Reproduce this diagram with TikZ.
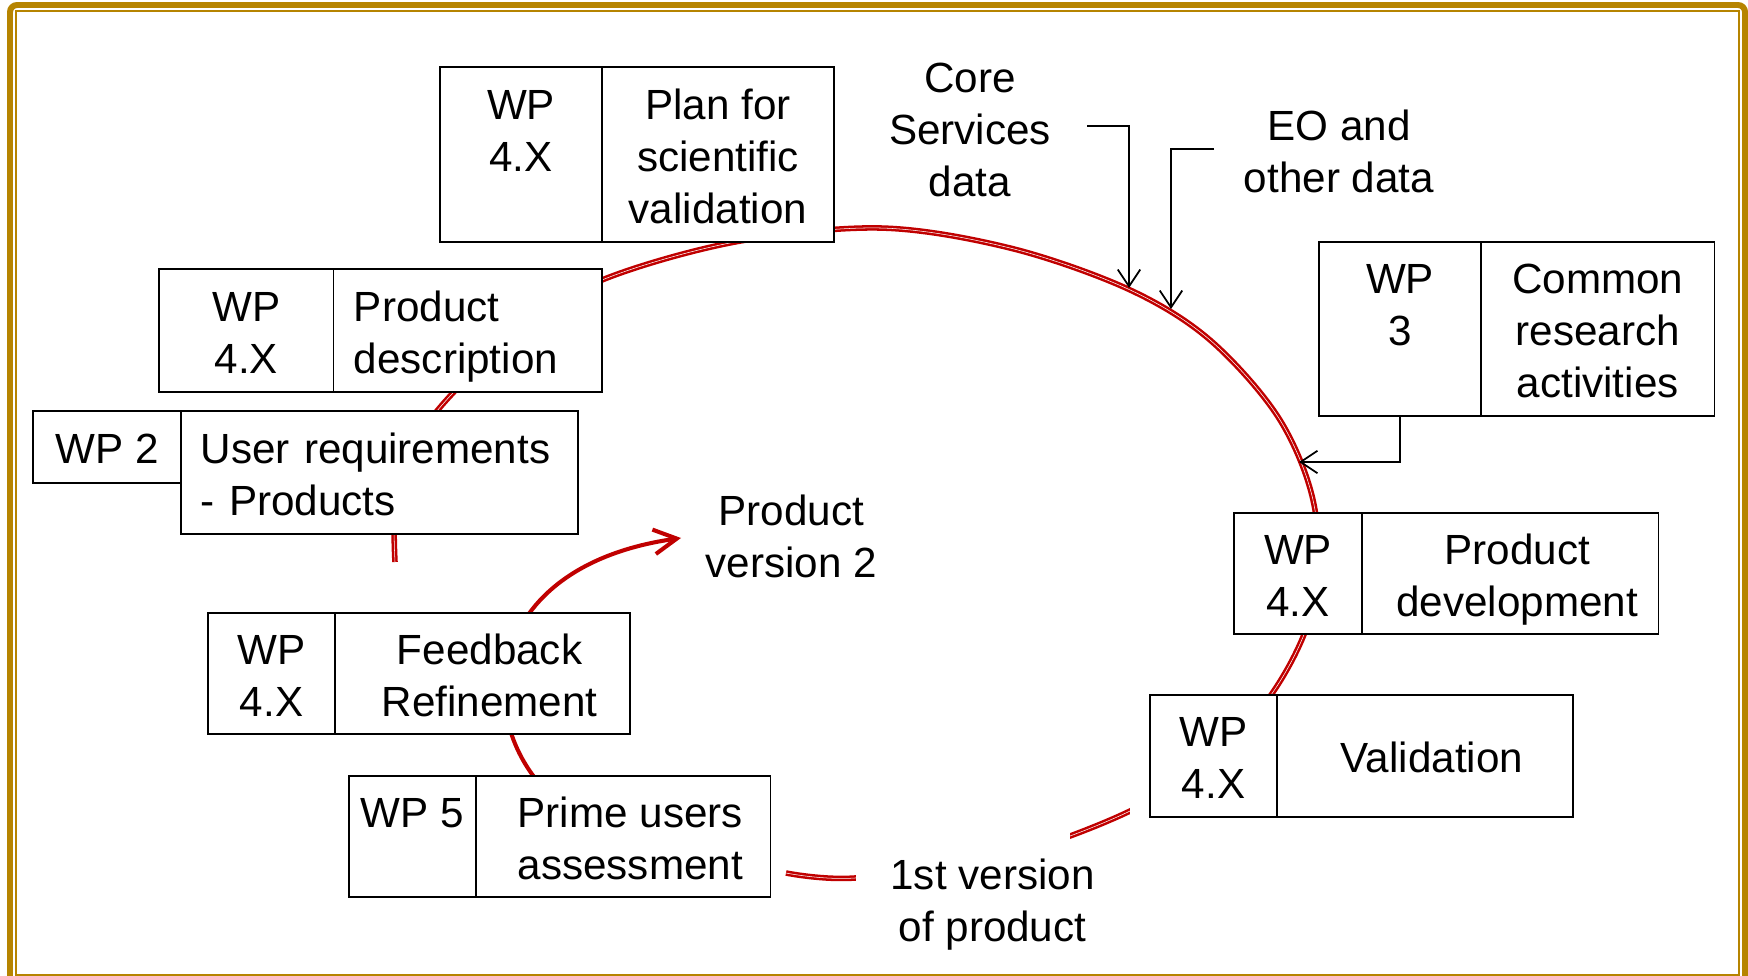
\documentclass[tikz,border=0pt]{standalone}
\usepackage{fontspec}
\setmainfont{Liberation Sans}
\usetikzlibrary{arrows.meta}
\definecolor{framegold}{RGB}{182,132,0}
\definecolor{ringred}{RGB}{192,0,0}
\newcommand\tstrut{\rule[-2.6pt]{0pt}{14.8pt}}
\newcommand\rs{\hspace*{0.14cm}}
\begin{document}
\begin{tikzpicture}[x=0.01cm,y=-0.01cm,
  txt/.style={font=\fontsize{12pt}{14.8pt}\selectfont, inner sep=0pt, outer sep=0pt, align=center},
  cell/.style={txt, draw=black, line width=0.45pt, fill=white},
  ringline/.style={draw=ringred, double=white, line width=0.72pt, double distance=0.15pt},
  blk/.style={draw=black, line width=0.5pt, -{Straight Barb[length=4.8pt,width=6.4pt]}},
  redarrow/.style={draw=ringred, line width=1.15pt, -{Straight Barb[length=6.5pt,width=7pt]}},
]
\useasboundingbox (0,0) rectangle (1748,976);
% frame
\draw[framegold, line width=1.7pt, rounded corners=2pt] (10,5) rectangle (1745,984);
\draw[framegold, line width=0.57pt] (16,11) rectangle (1739,975);

% big ring
\draw[ringline] plot[smooth, tension=0.55] coordinates {(395,562) (398,480) (437,411) (520,330) (602,280) (735,242) (880,228) (1010,248) (1128,289) (1210,340) (1280,420) (1315,510) (1312,610) (1271,695) (1207,760) (1128,812) (1000,858) (855,878) (786,873)};
\fill[white] (1129.5,770) rectangle (1149,835);
\fill[white] (856,815) rectangle (1070,900);

% inner arrow to product version 2
\coordinate (fbS) at (545,790);
\coordinate (fbT) at (681,538);
\draw[redarrow] (fbS) .. controls (470,710) and (490,565) .. (fbT);

% boxes
\node[cell, minimum width=1.62cm, minimum height=1.75cm] (p1l) at (521,154.5) {\tstrut WP\\\tstrut 4.X\\\tstrut};
\node[cell, minimum width=2.32cm, minimum height=1.75cm] (p1r) at (718,154.5) {\tstrut Plan for\\\tstrut scientific\\\tstrut validation};

\node[cell, minimum width=1.745cm, minimum height=1.23cm] (p2l) at (246.25,330.5) {\tstrut WP\\\tstrut 4.X};
\node[cell, minimum width=2.685cm, minimum height=1.23cm, text width=2.275cm, align=left] (p2r) at (467.75,330.5) {\tstrut Product\\\tstrut description};

\node[cell, minimum width=1.48cm, minimum height=0.72cm] (w2l) at (107,447) {\tstrut WP 2};
\node[cell, minimum width=3.97cm, minimum height=1.23cm, text width=3.57cm, align=left] (w2r) at (379.5,472.5) {\tstrut User requirements\\\tstrut - Products};

\node[cell, minimum width=1.62cm, minimum height=1.74cm] (c3l) at (1400,329) {\tstrut WP\\\tstrut 3\\\tstrut};
\node[cell, minimum width=2.335cm, minimum height=1.74cm] (c3r) at (1597.75,329) {\tstrut Common\\\tstrut research\\\tstrut activities};

\node[cell, minimum width=1.28cm, minimum height=1.21cm] (pdl) at (1298,573.5) {\tstrut WP\\\tstrut 4.X};
\node[cell, minimum width=2.965cm, minimum height=1.21cm] (pdr) at (1510.25,573.5) {\rs\tstrut Product\\\rs\tstrut development};

\node[cell, minimum width=1.27cm, minimum height=1.22cm] (vl) at (1213.5,756) {\tstrut WP\\\tstrut 4.X};
\node[cell, minimum width=2.96cm, minimum height=1.22cm] (vr) at (1425,756) {\rs\tstrut Validation};

\node[cell, minimum width=1.27cm, minimum height=1.21cm] (fbl) at (271.5,673.5) {\tstrut WP\\\tstrut 4.X};
\node[cell, minimum width=2.95cm, minimum height=1.21cm] (fbr) at (482.5,673.5) {\rs\tstrut Feedback\\\rs\tstrut Refinement};

\node[cell, minimum width=1.27cm, minimum height=1.21cm] (pul) at (412.5,836.5) {\tstrut WP 5\\\tstrut};
\node[cell, minimum width=2.945cm, minimum height=1.21cm] (pur) at (623.25,836.5) {\rs\tstrut Prime users\\\rs\tstrut assessment};

% free texts
\node[txt] (core) at (970,128) {\tstrut Core\\\tstrut Services\\\tstrut data};
\node[txt] (eo) at (1339,150) {\tstrut EO and\\\tstrut other data};
\node[txt] (pv2) at (791.5,535) {\tstrut Product\\\tstrut version 2};
\node[txt] (v1) at (992.5,899) {\tstrut 1st version\\\tstrut of product};

% black arrows
\coordinate (coreS) at (1087,126);
\coordinate (coreT) at (1129,288);
\draw[blk] (coreS) -| (coreT);
\coordinate (eoS) at (1214,149);
\coordinate (eoT) at (1171,309);
\draw[blk] (eoS) -| (eoT);
\coordinate (c3T) at (1299,462);
\draw[blk] (c3l.south) |- (c3T);
\end{tikzpicture}
\end{document}
